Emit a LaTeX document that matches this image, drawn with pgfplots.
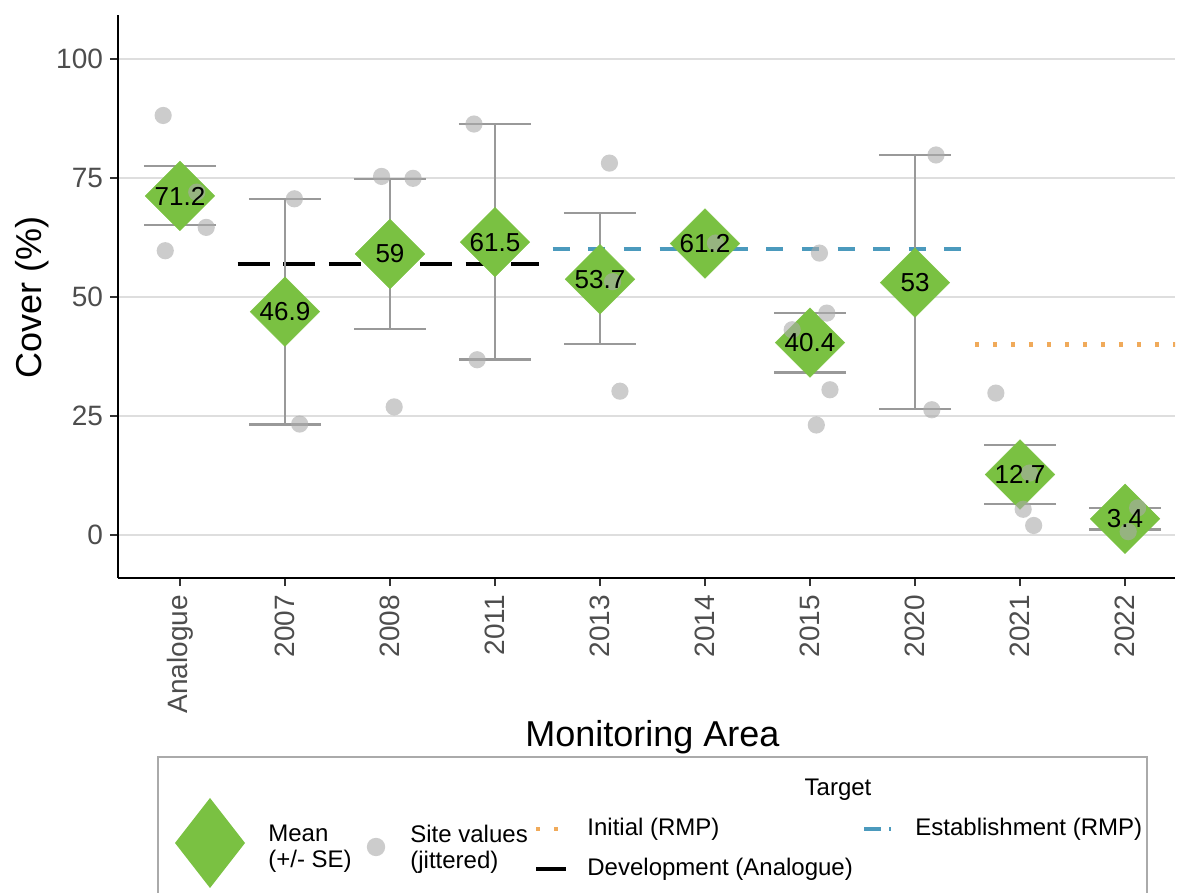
\documentclass[border=0pt]{standalone}
\usepackage{pgfplots}
\pgfplotsset{compat=1.18}
\usepackage{fontspec}
\setmainfont{Liberation Sans}
\definecolor{dgreen}{RGB}{122,193,66}
\definecolor{tblue}{RGB}{75,154,189}
\definecolor{torange}{RGB}{240,170,90}
\definecolor{errgrey}{RGB}{153,153,153}
\definecolor{ptgrey}{RGB}{170,170,170}
\definecolor{gridgrey}{RGB}{222,222,222}
\definecolor{tickgrey}{RGB}{77,77,77}
\definecolor{tickgrey2}{RGB}{51,51,51}
\definecolor{boxgrey}{RGB}{170,170,170}

\pgfplotstableread{
x y lab
0 71.2 71.2
1 46.9 46.9
2 59 59
3 61.5 61.5
4 53.7 53.7
5 61.2 61.2
6 40.4 40.4
7 53 53
8 12.7 12.7
9 3.4 3.4
}\means

\pgfplotstableread{
x y
-0.16 88.1
0.16 72.0
0.25 64.6
-0.14 59.7
1.09 70.6
1.14 23.3
1.92 75.3
2.22 74.9
2.04 26.9
2.80 86.3
2.83 36.8
4.09 78.1
4.12 53.2
4.19 30.2
5.10 61.3
6.09 59.2
6.16 46.6
5.83 43.1
6.19 30.5
6.06 23.1
7.20 79.8
7.16 26.3
7.77 29.8
8.09 13.0
8.03 5.4
8.13 2.0
9.12 5.7
9.03 0.7
}\sites

\begin{document}
\begin{tikzpicture}
\path[use as bounding box] (-59pt,-157.5pt) rectangle (530pt,289pt);
\begin{axis}[
  at={(0pt,0pt)}, anchor=south west,
  scale only axis, width=528.5pt, height=281.5pt,
  xmin=-0.59, xmax=9.476, ymin=-9.03, ymax=109.2,
  axis x line*=bottom, axis y line*=left,
  axis line style={line width=1.2pt, black, -},
  xtick={0,1,2,3,4,5,6,7,8,9},
  xticklabels={Analogue,2007,2008,2011,2013,2014,2015,2020,2021,2022},
  ytick={0,25,50,75,100},
  ymajorgrids, grid style={line width=1pt, gridgrey},
  tick align=outside, major tick length=4pt,
  tick style={line width=1pt, tickgrey2},
  ticklabel style={font=\fontsize{14}{14}\selectfont, text=tickgrey},
  xticklabel style={rotate=90, anchor=east},
  xticklabel shift=1pt,
  /pgf/number format/assume math mode=true,
]
% reference lines
\addplot[black, line width=2.2pt, dash pattern=on 16pt off 6.8pt] coordinates {(0.55,56.96) (3.42,56.96)};
\addplot[tblue, line width=2pt, dash pattern=on 8.5pt off 9.3pt] coordinates {(3.55,60) (7.46,60)};
\addplot[torange, line width=2.1pt, dash pattern=on 2.1pt off 6.9pt] coordinates {(7.57,40) (9.7,40)};
% error bars
\addplot[only marks, mark=none, error bars/.cd, y dir=both, y explicit,
  error bar style={line width=1.3pt, errgrey},
  error mark options={rotate=90, mark size=18pt, line width=1.3pt, errgrey}]
  coordinates {
  (0,71.2) += (0,6.3) -= (0,6.1)
  (1,46.9) += (0,23.7) -= (0,23.7)
  (2,59) += (0,15.8) -= (0,15.7)
  (3,61.5) += (0,24.8) -= (0,24.7)
  (4,53.7) += (0,13.9) -= (0,13.6)
  (6,40.4) += (0,6.2) -= (0,6.3)
  (7,53) += (0,26.8) -= (0,26.5)
  (8,12.7) += (0,6.2) -= (0,6.2)
  (9,3.4) += (0,2.3) -= (0,2.3)
  };
% means
\addplot[only marks, color=dgreen, mark=square*, mark size=12.3pt, mark options={rotate=45, fill=dgreen, draw=dgreen, line width=0.2pt}] table[x=x,y=y] {\means};
% site values
\addplot[only marks, color=ptgrey, mark=*, mark size=4.3pt, mark options={fill=ptgrey, draw=ptgrey, fill opacity=0.6, draw opacity=0, line width=0pt}] table[x=x,y=y] {\sites};
% labels
\addplot[only marks, mark=none, point meta=explicit symbolic, nodes near coords, nodes near coords align={center},
  nodes near coords style={font=\fontsize{13}{13}\selectfont, text=black, inner sep=0pt, anchor=center}] table[x=x,y=y,meta=lab] {\means};
\end{axis}
% axis titles
\node[rotate=90, anchor=base, font=\fontsize{18}{18}\selectfont] at (-38pt,140.25pt) {Cover (\%)};
\node[anchor=base, font=\fontsize{18}{18}\selectfont] at (267.25pt,-84.5pt) {Monitoring Area};
% legend
\draw[boxgrey, line width=0.6pt] (20pt,-170pt) rectangle (514.5pt,-89.5pt);
\fill[dgreen] (46pt,-110pt) -- (63.5pt,-132.5pt) -- (46pt,-155pt) -- (28.5pt,-132.5pt) -- cycle;
\node[anchor=west, align=left, font=\fontsize{12}{13}\selectfont, inner sep=0pt] at (75pt,-135.5pt) {Mean\\(+/- SE)};
\fill[ptgrey, fill opacity=0.6] (129pt,-134.5pt) circle (4.6pt);
\node[anchor=west, align=left, font=\fontsize{12}{13}\selectfont, inner sep=0pt] at (146pt,-135.5pt) {Site values\\(jittered)};
\node[font=\fontsize{12}{12}\selectfont] at (360pt,-106pt) {Target};
\draw[torange, line width=2.1pt, dash pattern=on 2.1pt off 6.9pt] (209pt,-125.5pt) -- (224pt,-125.5pt);
\node[anchor=west, font=\fontsize{12}{12}\selectfont, inner sep=0pt] at (234.5pt,-125.5pt) {Initial (RMP)};
\draw[black, line width=2.2pt] (209pt,-145.5pt) -- (224pt,-145.5pt);
\node[anchor=west, font=\fontsize{12}{12}\selectfont, inner sep=0pt] at (234.5pt,-145.5pt) {Development (Analogue)};
\draw[tblue, line width=2pt, dash pattern=on 8.5pt off 4pt] (373pt,-125.5pt) -- (386.5pt,-125.5pt);
\node[anchor=west, font=\fontsize{12}{12}\selectfont, inner sep=0pt] at (398.5pt,-125.5pt) {Establishment (RMP)};
\end{tikzpicture}
\end{document}
